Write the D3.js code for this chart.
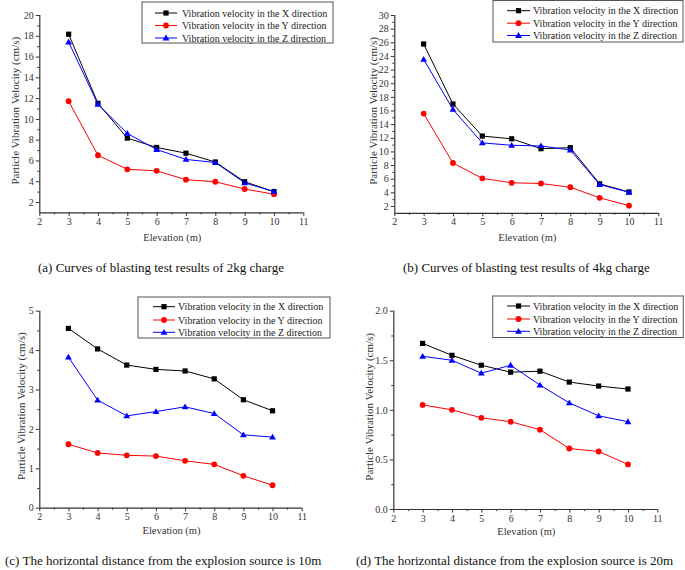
<!DOCTYPE html>
<html><head><meta charset="utf-8">
<script src="https://cdn.jsdelivr.net/npm/d3@7"></script>
<style>body{margin:0;background:#fff}svg{display:block;font-family:"Liberation Serif","Times New Roman",serif}</style>
</head><body>
<svg id="c" width="685" height="570"></svg>
<script>
const elevations = [3,4,5,6,7,8,9,10];
const seriesNames = ["Vibration velocity in the X direction","Vibration velocity in the Y direction","Vibration velocity in the Z direction"];
const seriesColors = ["#000000","#ff0000","#0000ff"];
// (a) 2kg charge
const a_X = [18.15,11.5,8.15,7.25,6.7,5.85,3.95,3.0];
const a_Y = [11.7,6.5,5.15,5.0,4.15,3.95,3.25,2.75];
const a_Z = [17.4,11.4,8.6,7.05,6.1,5.8,3.85,3.0];
// (b) 4kg charge
const b_X = [25.75,16.95,12.25,11.85,10.4,10.55,5.25,4.05];
const b_Y = [15.55,8.3,6.05,5.4,5.3,4.75,3.2,2.05];
const b_Z = [23.5,16.15,11.25,10.9,10.8,10.2,5.15,4.0];
// (c) horizontal distance 10m
const c_X = [4.55,4.03,3.62,3.51,3.47,3.27,2.74,2.46];
const c_Y = [1.61,1.39,1.33,1.31,1.19,1.10,0.81,0.57];
const c_Z = [3.82,2.73,2.33,2.44,2.56,2.39,1.85,1.79];
// (d) horizontal distance 20m
const d_X = [1.67,1.55,1.45,1.38,1.39,1.28,1.24,1.21];
const d_Y = [1.05,1.00,0.92,0.88,0.80,0.61,0.58,0.45];
const d_Z = [1.54,1.50,1.37,1.45,1.25,1.07,0.94,0.88];
const xTicks = [2,3,4,5,6,7,8,9,10,11];
const captions = ["(a) Curves of blasting test results of 2kg charge","(b) Curves of blasting test results of 4kg charge","(c) The horizontal distance from the explosion source is 10m","(d) The horizontal distance from the explosion source is 20m"];
const xTitle = "Elevation (m)";
const yTitle = "Particle Vibration Velocity (cm/s)";

const panels = [
  {data:[a_X,a_Y,a_Z], xr:[39.3,303.3], yd:[1,20], yr:[212.4,15], yt:d3.range(2,21,2), ym:d3.range(3,20,2), fmt:d3.format("d"),
   yl:15, xlY:241, leg:{x:142,y:2,w:191,h:41,ly:[13,25.5,38],lx:[155,177],tx:182}, cap:{x:38,y:272}},
  {data:[b_X,b_Y,b_Z], xr:[394.3,658.3], yd:[1,30], yr:[212.8,15], yt:d3.range(2,31,2), ym:d3.range(3,30,2), fmt:d3.format("d"),
   yl:372.7, xlY:241, leg:{x:493,y:0.5,w:190,h:41.5,ly:[10.7,23.2,35.5],lx:[507,530],tx:533}, cap:{x:403,y:272}},
  {data:[c_X,c_Y,c_Z], xr:[39.3,301.7], yd:[0,5], yr:[507.7,310.7], yt:d3.range(0,5.01,1), ym:d3.range(0.5,5,1), fmt:d3.format("d"),
   yl:21, xlY:534, leg:{x:138,y:297,w:192,h:41,ly:[306.7,320,332.3],lx:[153,175],tx:178}, cap:{x:5,y:565}},
  {data:[d_X,d_Y,d_Z], xr:[393.3,657.3], yd:[0,2], yr:[509,310.7], yt:d3.range(0,2.01,0.5), ym:d3.range(0.25,2,0.5), fmt:d3.format(".1f"),
   yl:369, xlY:535, leg:{x:492.7,y:296,w:190.6,h:41.5,ly:[306,319,331.3],lx:[507,530],tx:533}, cap:{x:356,y:565}}
];

const svg = d3.select("#c");
const axisCol = "#333";

function marker(g, i, x, y, col) {
  if (i === 0) g.append("rect").attr("x",x-2.6).attr("y",y-2.6).attr("width",5.2).attr("height",5.2).attr("fill",col);
  else if (i === 1) g.append("circle").attr("cx",x).attr("cy",y).attr("r",2.9).attr("fill",col);
  else g.append("path").attr("d",`M${x},${y-3.4}L${x+3.4},${y+2.4}L${x-3.4},${y+2.4}Z`).attr("fill",col);
}

panels.forEach((p, pi) => {
  const x = d3.scaleLinear().domain([2,11]).range(p.xr);
  const y = d3.scaleLinear().domain(p.yd).range(p.yr);
  const g = svg.append("g");
  const xa = g.append("g").attr("transform",`translate(0,${p.yr[0]})`)
    .call(d3.axisBottom(x).tickValues(xTicks).tickSize(3.5).tickPadding(2).tickFormat(d3.format("d")));
  g.append("g").attr("transform",`translate(0,${p.yr[0]})`)
    .call(d3.axisBottom(x).tickValues(d3.range(2.5,11,1)).tickSize(2).tickFormat(""))
    .call(s=>s.select(".domain").remove());
  const ya = g.append("g").attr("transform",`translate(${p.xr[0]},0)`)
    .call(d3.axisLeft(y).tickValues(p.yt).tickSize(3.5).tickPadding(2).tickFormat(p.fmt));
  g.append("g").attr("transform",`translate(${p.xr[0]},0)`)
    .call(d3.axisLeft(y).tickValues(p.ym).tickSize(2).tickFormat(""))
    .call(s=>s.select(".domain").remove());
  g.selectAll(".domain").attr("stroke",axisCol).attr("stroke-width",1.2);
  g.selectAll(".tick line").attr("stroke",axisCol);
  g.selectAll(".tick text").attr("font-family","Liberation Serif").attr("font-size",10).attr("fill","#333");
  xa.select(".domain").attr("d",`M${p.xr[0]},0.5H${p.xr[1]}`);
  ya.select(".domain").attr("d",`M0.5,${p.yr[0]}V${p.yr[1]}`);

  p.data.forEach((vals, si) => {
    const line = d3.line().x((d,i)=>x(elevations[i])).y(d=>y(d));
    g.append("path").datum(vals).attr("d",line).attr("fill","none").attr("stroke",seriesColors[si]).attr("stroke-width",1);
    vals.forEach((v,i)=>marker(g, si, x(elevations[i]), y(v), seriesColors[si]));
  });

  g.append("text").attr("x",(p.xr[0]+p.xr[1])/2 + 1).attr("y",p.xlY).attr("text-anchor","middle")
    .attr("font-size",10.5).attr("fill","#333").text(xTitle);
  const ymid = (p.yr[0]+p.yr[1])/2 - 3;
  g.append("text").attr("transform",`translate(${p.yl},${ymid}) rotate(-90)`).attr("text-anchor","middle")
    .attr("dy","0.35em").attr("font-size",11).attr("fill","#333").text(yTitle);

  const L = p.leg;
  g.append("rect").attr("x",L.x).attr("y",L.y).attr("width",L.w).attr("height",L.h)
    .attr("fill","#fff").attr("stroke","#555").attr("stroke-width",1);
  seriesNames.forEach((n, si) => {
    const ly = L.ly[si];
    g.append("line").attr("x1",L.lx[0]).attr("x2",L.lx[1]).attr("y1",ly).attr("y2",ly).attr("stroke",seriesColors[si]).attr("stroke-width",1);
    marker(g, si, (L.lx[0]+L.lx[1])/2, ly, seriesColors[si]);
    g.append("text").attr("x",L.tx).attr("y",ly).attr("dy","0.35em").attr("font-size",10).attr("fill","#222").text(n);
  });

  svg.append("text").attr("x",p.cap.x).attr("y",p.cap.y).attr("font-size",13).attr("fill","#111").text(captions[pi]);
});
</script>
</body></html>
